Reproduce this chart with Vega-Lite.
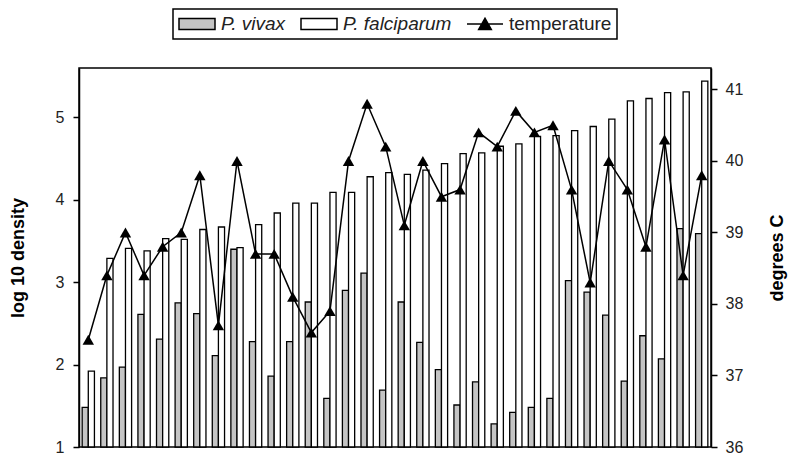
{
  "$schema": "https://vega.github.io/schema/vega-lite/v6.json",
  "width": 632,
  "height": 379,
  "autosize": {"type": "none"},
  "padding": {"left": 79, "top": 68, "right": 89, "bottom": 14},
  "background": "white",
  "config": {
    "font": "Liberation Sans",
    "view": {"stroke": "black", "strokeWidth": 1.5},
    "axis": {"grid": false, "domainColor": "black", "domainWidth": 1.5, "tickColor": "black", "tickWidth": 1.5, "tickSize": 6, "labelFontSize": 16, "labelColor": "#222", "titleFontSize": 18, "titleFontWeight": "bold", "titleColor": "black"}
  },
  "datasets": {
    "bars": [
      {"sample": 1, "species": "P. vivax", "density": 1.48}, {"sample": 1, "species": "P. falciparum", "density": 1.92},
      {"sample": 2, "species": "P. vivax", "density": 1.84}, {"sample": 2, "species": "P. falciparum", "density": 3.29},
      {"sample": 3, "species": "P. vivax", "density": 1.97}, {"sample": 3, "species": "P. falciparum", "density": 3.41},
      {"sample": 4, "species": "P. vivax", "density": 2.61}, {"sample": 4, "species": "P. falciparum", "density": 3.38},
      {"sample": 5, "species": "P. vivax", "density": 2.31}, {"sample": 5, "species": "P. falciparum", "density": 3.53},
      {"sample": 6, "species": "P. vivax", "density": 2.75}, {"sample": 6, "species": "P. falciparum", "density": 3.52},
      {"sample": 7, "species": "P. vivax", "density": 2.62}, {"sample": 7, "species": "P. falciparum", "density": 3.64},
      {"sample": 8, "species": "P. vivax", "density": 2.11}, {"sample": 8, "species": "P. falciparum", "density": 3.67},
      {"sample": 9, "species": "P. vivax", "density": 3.40}, {"sample": 9, "species": "P. falciparum", "density": 3.42},
      {"sample": 10, "species": "P. vivax", "density": 2.28}, {"sample": 10, "species": "P. falciparum", "density": 3.70},
      {"sample": 11, "species": "P. vivax", "density": 1.86}, {"sample": 11, "species": "P. falciparum", "density": 3.84},
      {"sample": 12, "species": "P. vivax", "density": 2.28}, {"sample": 12, "species": "P. falciparum", "density": 3.96},
      {"sample": 13, "species": "P. vivax", "density": 2.76}, {"sample": 13, "species": "P. falciparum", "density": 3.96},
      {"sample": 14, "species": "P. vivax", "density": 1.59}, {"sample": 14, "species": "P. falciparum", "density": 4.09},
      {"sample": 15, "species": "P. vivax", "density": 2.90}, {"sample": 15, "species": "P. falciparum", "density": 4.09},
      {"sample": 16, "species": "P. vivax", "density": 3.11}, {"sample": 16, "species": "P. falciparum", "density": 4.28},
      {"sample": 17, "species": "P. vivax", "density": 1.69}, {"sample": 17, "species": "P. falciparum", "density": 4.33},
      {"sample": 18, "species": "P. vivax", "density": 2.76}, {"sample": 18, "species": "P. falciparum", "density": 4.31},
      {"sample": 19, "species": "P. vivax", "density": 2.27}, {"sample": 19, "species": "P. falciparum", "density": 4.36},
      {"sample": 20, "species": "P. vivax", "density": 1.94}, {"sample": 20, "species": "P. falciparum", "density": 4.44},
      {"sample": 21, "species": "P. vivax", "density": 1.51}, {"sample": 21, "species": "P. falciparum", "density": 4.56},
      {"sample": 22, "species": "P. vivax", "density": 1.79}, {"sample": 22, "species": "P. falciparum", "density": 4.57},
      {"sample": 23, "species": "P. vivax", "density": 1.28}, {"sample": 23, "species": "P. falciparum", "density": 4.65},
      {"sample": 24, "species": "P. vivax", "density": 1.42}, {"sample": 24, "species": "P. falciparum", "density": 4.68},
      {"sample": 25, "species": "P. vivax", "density": 1.48}, {"sample": 25, "species": "P. falciparum", "density": 4.77},
      {"sample": 26, "species": "P. vivax", "density": 1.59}, {"sample": 26, "species": "P. falciparum", "density": 4.78},
      {"sample": 27, "species": "P. vivax", "density": 3.02}, {"sample": 27, "species": "P. falciparum", "density": 4.84},
      {"sample": 28, "species": "P. vivax", "density": 2.88}, {"sample": 28, "species": "P. falciparum", "density": 4.89},
      {"sample": 29, "species": "P. vivax", "density": 2.60}, {"sample": 29, "species": "P. falciparum", "density": 4.98},
      {"sample": 30, "species": "P. vivax", "density": 1.80}, {"sample": 30, "species": "P. falciparum", "density": 5.20},
      {"sample": 31, "species": "P. vivax", "density": 2.35}, {"sample": 31, "species": "P. falciparum", "density": 5.23},
      {"sample": 32, "species": "P. vivax", "density": 2.07}, {"sample": 32, "species": "P. falciparum", "density": 5.30},
      {"sample": 33, "species": "P. vivax", "density": 3.65}, {"sample": 33, "species": "P. falciparum", "density": 5.31},
      {"sample": 34, "species": "P. vivax", "density": 3.59}, {"sample": 34, "species": "P. falciparum", "density": 5.44}
    ],
    "temps": [
      {"sample": 1, "temp": 37.5}, {"sample": 2, "temp": 38.4}, {"sample": 3, "temp": 39.0}, {"sample": 4, "temp": 38.4},
      {"sample": 5, "temp": 38.8}, {"sample": 6, "temp": 39.0}, {"sample": 7, "temp": 39.8}, {"sample": 8, "temp": 37.7},
      {"sample": 9, "temp": 40.0}, {"sample": 10, "temp": 38.7}, {"sample": 11, "temp": 38.7}, {"sample": 12, "temp": 38.1},
      {"sample": 13, "temp": 37.6}, {"sample": 14, "temp": 37.9}, {"sample": 15, "temp": 40.0}, {"sample": 16, "temp": 40.8},
      {"sample": 17, "temp": 40.2}, {"sample": 18, "temp": 39.1}, {"sample": 19, "temp": 40.0}, {"sample": 20, "temp": 39.5},
      {"sample": 21, "temp": 39.6}, {"sample": 22, "temp": 40.4}, {"sample": 23, "temp": 40.2}, {"sample": 24, "temp": 40.7},
      {"sample": 25, "temp": 40.4}, {"sample": 26, "temp": 40.5}, {"sample": 27, "temp": 39.6}, {"sample": 28, "temp": 38.3},
      {"sample": 29, "temp": 40.0}, {"sample": 30, "temp": 39.6}, {"sample": 31, "temp": 38.8}, {"sample": 32, "temp": 40.3},
      {"sample": 33, "temp": 38.4}, {"sample": 34, "temp": 39.8}
    ]
  },
  "layer": [
    {
      "data": {"name": "bars"},
      "mark": {"type": "bar", "stroke": "black", "strokeWidth": 1.3},
      "encoding": {
        "x": {"field": "sample", "type": "ordinal", "axis": null, "scale": {"paddingInner": 0.34, "paddingOuter": 0.17}},
        "xOffset": {"field": "species", "type": "nominal", "scale": {"domain": ["P. vivax", "P. falciparum"], "paddingInner": 0}},
        "y": {"field": "density", "type": "quantitative", "scale": {"domain": [1, 5.6], "nice": false, "zero": false}, "axis": {"title": "log 10 density", "values": [1, 2, 3, 4, 5], "orient": "left", "labelPadding": 9, "titlePadding": 28}},
        "y2": {"datum": 1},
        "fill": {
          "field": "species", "type": "nominal",
          "scale": {"domain": ["P. vivax", "P. falciparum", "temperature"], "range": ["#c4c4c4", "#ffffff", "#000000"]},
          "legend": {
            "title": null,
            "orient": "none",
            "legendX": 94,
            "legendY": -59,
            "direction": "horizontal",
            "columns": 3,
            "columnPadding": 12,
            "padding": 5,
            "strokeColor": "black",
            "symbolSize": 324,
            "symbolOffset": 9,
            "symbolStrokeColor": "black",
            "symbolStrokeWidth": 1.5,
            "labelFontSize": 19,
            "labelColor": "#222",
            "labelOffset": 14,
            "encode": {
              "legend": {"update": {"strokeWidth": {"value": 1.5}}},
              "symbols": {"update": {
                "shape": {"signal": "datum.value === 'temperature' ? 'M-2,0H2M-0.7,0.6L0,-0.64L0.7,0.6Z' : 'M-2,-0.62H2V0.62H-2Z'"},
                "stroke": {"value": "black"},
                "strokeWidth": {"value": 1.5}
              }},
              "labels": {"update": {
                "fontStyle": {"signal": "datum.value === 'temperature' ? 'normal' : 'italic'"}
              }}
            }
          }
        }
      }
    },
    {
      "data": {"name": "temps"},
      "encoding": {
        "x": {"field": "sample", "type": "ordinal"},
        "y": {"field": "temp", "type": "quantitative", "scale": {"domain": [36, 41.3], "nice": false, "zero": false}, "axis": {"title": "degrees C", "orient": "right", "values": [36, 37, 38, 39, 40, 41], "titleAngle": -90, "labelPadding": 8, "titlePadding": 44}}
      },
      "layer": [
        {
          "mark": {"type": "line", "color": "black", "strokeWidth": 1.5}
        },
        {
          "mark": {"type": "point", "shape": "triangle-up", "filled": true, "size": 130, "opacity": 1},
          "encoding": {
            "fill": {"datum": "temperature", "type": "nominal"}
          }
        }
      ]
    }
  ],
  "resolve": {"scale": {"y": "independent"}}
}
